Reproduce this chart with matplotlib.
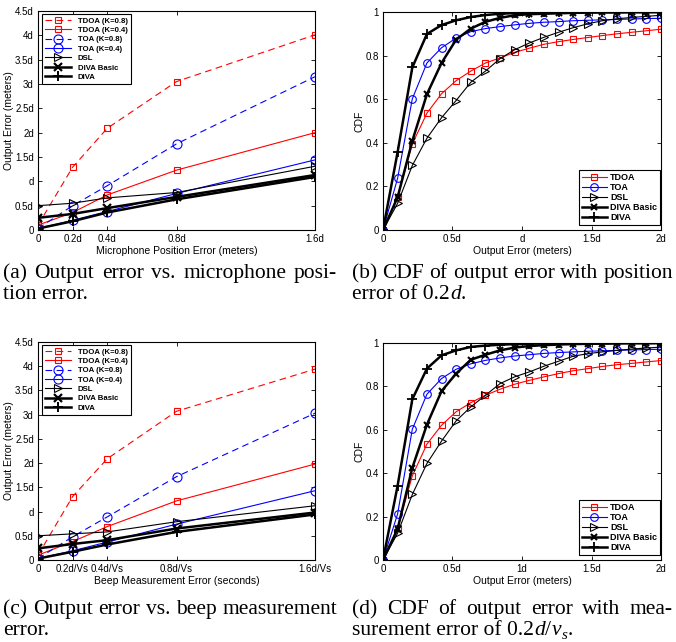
import matplotlib
matplotlib.use('Agg')
import matplotlib.pyplot as plt

plt.rcParams['font.family'] = ['Liberation Sans', 'DejaVu Sans']

# ---------------- data ----------------
err_x = [0, 0.2, 0.4, 0.8, 1.6]
err_labels = ['TDOA (K=0.8)', 'TDOA (K=0.4)', 'TOA (K=0.8)', 'TOA (K=0.4)',
              'DSL', 'DIVA Basic', 'DIVA']

# (a) output error vs microphone position error (units of d)
a_tdoa08 = [0.10, 1.29, 2.09, 3.05, 4.01]
a_tdoa04 = [0.10, 0.36, 0.72, 1.23, 2.00]
a_toa08 = [0.03, 0.50, 0.91, 1.77, 3.15]
a_toa04 = [0.03, 0.20, 0.38, 0.75, 1.44]
a_dsl = [0.50, 0.55, 0.66, 0.77, 1.31]
a_divab = [0.25, 0.33, 0.45, 0.68, 1.13]
a_diva = [0.03, 0.18, 0.36, 0.63, 1.09]

# (c) output error vs beep measurement error
c_tdoa08 = [0.10, 1.31, 2.09, 3.07, 3.94]
c_tdoa04 = [0.10, 0.38, 0.69, 1.22, 1.98]
c_toa08 = [0.03, 0.48, 0.89, 1.72, 3.03]
c_toa04 = [0.03, 0.19, 0.37, 0.74, 1.43]
c_dsl = [0.50, 0.54, 0.58, 0.79, 1.12]
c_divab = [0.24, 0.33, 0.41, 0.65, 0.98]
c_diva = [0.03, 0.17, 0.32, 0.58, 0.94]

err_yticks = [0, 0.5, 1, 1.5, 2, 2.5, 3, 3.5, 4, 4.5]
err_yticklabels = ['0', '0.5d', 'd', '1.5d', '2d', '2.5d', '3d', '3.5d', '4d', '4.5d']
a_xticklabels = ['0', '0.2d', '0.4d', '0.8d', '1.6d']
c_xticklabels = ['0', '0.2d/Vs', '0.4d/Vs', '0.8d/Vs', '1.6d/Vs']

# CDF panels
cdf_x = [0, 0.105, 0.211, 0.316, 0.421, 0.526, 0.632, 0.737, 0.842, 0.947,
         1.053, 1.158, 1.263, 1.368, 1.474, 1.579, 1.684, 1.789, 1.895, 2.0]
cdf_labels = ['TDOA', 'TOA', 'DSL', 'DIVA Basic', 'DIVA']

b_tdoa = [0, .153, .395, .536, .625, .685, .729, .766, .789, .815,
          .834, .852, .864, .874, .883, .892, .900, .907, .914, .921]
b_toa = [0, .237, .602, .766, .836, .880, .910, .924, .933, .941,
         .948, .953, .956, .960, .962, .964, .966, .968, .970, .971]
b_dsl = [0, .122, .296, .421, .515, .594, .678, .729, .786, .827,
         .858, .884, .907, .928, .946, .960, .969, .975, .980, .985]
b_divab = [0, .150, .409, .623, .766, .873, .924, .955, .973, .985,
           .990, .992, .994, .996, .997, .998, .998, .999, .999, 1.0]
b_diva = [0, .357, .746, .899, .940, .962, .977, .986, .992, .995,
          .997, .998, .999, .999, 1.0, 1.0, 1.0, 1.0, 1.0, 1.0]

d_tdoa = [0, .146, .388, .534, .621, .683, .725, .759, .787, .810,
          .828, .844, .859, .872, .882, .892, .900, .906, .913, .919]
d_toa = [0, .212, .603, .764, .836, .879, .904, .920, .931, .940,
         .946, .952, .956, .959, .962, .964, .966, .968, .970, .971]
d_dsl = [0, .123, .302, .445, .548, .641, .706, .759, .813, .844,
         .867, .893, .916, .939, .951, .959, .966, .972, .977, .981]
d_divab = [0, .143, .425, .624, .778, .859, .923, .946, .966, .979,
           .986, .990, .993, .995, .996, .997, .998, .999, .999, 1.0]
d_diva = [0, .342, .741, .882, .943, .966, .982, .988, .992, .995,
          .997, .998, .999, .999, 1.0, 1.0, 1.0, 1.0, 1.0, 1.0]

cdf_yticks = [0, 0.2, 0.4, 0.6, 0.8, 1]
cdf_yticklabels = ['0', '0.2', '0.4', '0.6', '0.8', '1']
cdf_xticks = [0, 0.5, 1, 1.5, 2]
b_xticklabels = ['0', '0.5d', 'd', '1.5d', '2d']
d_xticklabels = ['0', '0.5d', '1d', '1.5d', '2d']

# captions: justified first line, second line as (text, style) pieces
# style: 'n' normal, 'i' italic, 'sub' italic subscript
captions = {
    'a': ['(a) Output error vs. microphone posi-', [('tion error.', 'n')]],
    'b': ['(b) CDF of output error with position',
          [('error of 0.2', 'n'), ('d', 'i'), ('.', 'n')]],
    'c': ['(c) Output error vs. beep measurement', [('error.', 'n')]],
    'd': ['(d) CDF of output error with mea-',
          [('surement error of 0.2', 'n'), ('d', 'i'), ('/', 'n'),
           ('v', 'i'), ('s', 'sub'), ('.', 'n')]],
}

# ---------------- figure ----------------
W, H = 676, 642
fig = plt.figure(figsize=(W / 100, H / 100), dpi=100)


def rect(l, t, r, b):
    return [l / W, 1 - b / H, (r - l) / W, (b - t) / H]


axA = fig.add_axes(rect(38, 11, 315, 230))
axB = fig.add_axes(rect(383, 12, 661, 230))
axC = fig.add_axes(rect(38, 342, 315, 560))
axD = fig.add_axes(rect(383, 343, 661, 560))

RED = '#FF0000'
BLUE = '#0000FF'
THIN = 0.8
THICK = 1.8


def style_axes(ax):
    ax.tick_params(direction='in', length=3, width=0.6, labelsize=7,
                   top=True, right=True, pad=3, colors='black')
    for s in ax.spines.values():
        s.set_linewidth(0.8)


def legend(ax, loc, anchor, size, **kw):
    leg = ax.legend(loc=loc, bbox_to_anchor=anchor, borderaxespad=0,
                    prop={'weight': 'bold', 'size': size},
                    fancybox=False, framealpha=1, edgecolor='black', **kw)
    leg.get_frame().set_linewidth(0.8)
    return leg


def err_panel(ax, series, xticklabels, xlabel):
    tdoa08, tdoa04, toa08, toa04, dsl, divab, diva = series
    ax.plot(err_x, tdoa08, color=RED, ls='--', dashes=(6, 4), lw=THIN,
            marker='s', ms=5, mfc='none', mec=RED, mew=0.8, label=err_labels[0])
    ax.plot(err_x, tdoa04, color=RED, lw=THIN,
            marker='s', ms=5, mfc='none', mec=RED, mew=0.8, label=err_labels[1])
    ax.plot(err_x, toa08, color=BLUE, ls='--', dashes=(6, 4), lw=THIN,
            marker='o', ms=6.5, mfc='none', mec=BLUE, mew=0.8, label=err_labels[2])
    ax.plot(err_x, toa04, color=BLUE, lw=THIN,
            marker='o', ms=6.5, mfc='none', mec=BLUE, mew=0.8, label=err_labels[3])
    ax.plot(err_x, dsl, color='black', lw=THIN,
            marker='>', ms=6, mfc='none', mec='black', mew=0.8, label=err_labels[4])
    ax.plot(err_x, divab, color='black', lw=THICK,
            marker='x', ms=5.5, mec='black', mew=1.6, label=err_labels[5])
    ax.plot(err_x, diva, color='black', lw=THICK,
            marker='+', ms=7, mec='black', mew=1.4, label=err_labels[6])
    ax.set_xlim(0, 1.6)
    ax.set_ylim(0, 4.5)
    ax.set_xticks(err_x)
    ax.set_xticklabels(xticklabels)
    ax.set_yticks(err_yticks)
    ax.set_yticklabels(err_yticklabels)
    ax.set_xlabel(xlabel, fontsize=7.5, labelpad=1)
    ax.set_ylabel('Output Error (meters)', fontsize=7.5, labelpad=0.5)
    style_axes(ax)
    legend(ax, 'upper left', (4 / 277, 1 - 3 / 219), 5.6,
           handlelength=3.3, handletextpad=0.9, borderpad=0.4,
           labelspacing=0.25)


def cdf_panel(ax, series, xticklabels):
    tdoa, toa, dsl, divab, diva = series
    ax.plot(cdf_x, tdoa, color=RED, lw=THIN, marker='s', ms=4.2,
            mfc='none', mec=RED, mew=0.8, label=cdf_labels[0])
    ax.plot(cdf_x, toa, color=BLUE, lw=THIN, marker='o', ms=5.5,
            mfc='none', mec=BLUE, mew=0.8, label=cdf_labels[1])
    ax.plot(cdf_x, dsl, color='black', lw=THIN, marker='>', ms=5.5,
            mfc='none', mec='black', mew=0.8, label=cdf_labels[2])
    ax.plot(cdf_x, divab, color='black', lw=THICK, marker='x', ms=5,
            mec='black', mew=1.5, label=cdf_labels[3])
    ax.plot(cdf_x, diva, color='black', lw=THICK, marker='+', ms=6.5,
            mec='black', mew=1.3, label=cdf_labels[4])
    ax.set_xlim(0, 2)
    ax.set_ylim(0, 1)
    ax.set_xticks(cdf_xticks)
    ax.set_xticklabels(xticklabels)
    ax.set_yticks(cdf_yticks)
    ax.set_yticklabels(cdf_yticklabels)
    ax.set_xlabel('Output Error (meters)', fontsize=7.5, labelpad=1)
    ax.set_ylabel('CDF', fontsize=7.5, labelpad=0.5)
    style_axes(ax)
    legend(ax, 'lower right', (1 - 1 / 278, 5 / 218), 6.5,
           handlelength=2.8, handletextpad=0.35, borderpad=0.3,
           labelspacing=0.12)


err_panel(axA, [a_tdoa08, a_tdoa04, a_toa08, a_toa04, a_dsl, a_divab, a_diva],
          a_xticklabels, 'Microphone Position Error (meters)')
err_panel(axC, [c_tdoa08, c_tdoa04, c_toa08, c_toa04, c_dsl, c_divab, c_diva],
          c_xticklabels, 'Beep Measurement Error (seconds)')
cdf_panel(axB, [b_tdoa, b_toa, b_dsl, b_divab, b_diva], b_xticklabels)
cdf_panel(axD, [d_tdoa, d_toa, d_dsl, d_divab, d_diva], d_xticklabels)

# ---------------- captions ----------------
renderer = fig.canvas.get_renderer()
CAP_SIZE = 15.5
SERIF = 'Liberation Serif'


def cap_text(x, y_base, s, style='n'):
    size = CAP_SIZE
    fstyle = 'normal'
    dy = 0
    if style in ('i', 'sub'):
        fstyle = 'italic'
    if style == 'sub':
        size = CAP_SIZE * 0.7
        dy = 4
    return fig.text(x / W, 1 - (y_base + dy) / H, s, fontsize=size,
                    family=SERIF, style=fstyle, va='baseline', ha='left')


def justified_line(text, x0, x1, y_base):
    words = text.split(' ')
    objs = [cap_text(0, y_base, w) for w in words]
    widths = [o.get_window_extent(renderer).width for o in objs]
    gap = (x1 - x0 - sum(widths)) / (len(words) - 1)
    x = x0
    for o, w in zip(objs, widths):
        o.set_x(x / W)
        x += w + gap


def rich_line(pieces, x0, y_base):
    x = x0
    for i, (s, st) in enumerate(pieces):
        t = cap_text(x, y_base, s, st)
        x += t.get_window_extent(renderer).width + (0.3 if i < len(pieces) - 1 else 0)


cols = {'a': (3, 337), 'b': (352, 673), 'c': (3, 337), 'd': (352, 673)}
rows = {'a': (278, 299), 'b': (278, 299), 'c': (614, 635), 'd': (614, 635)}
for key, (line1, pieces) in captions.items():
    x0, x1 = cols[key]
    y1, y2 = rows[key]
    justified_line(line1, x0, x1, y1)
    rich_line(pieces, x0, y2)

fig.savefig('out.png', dpi=100)
